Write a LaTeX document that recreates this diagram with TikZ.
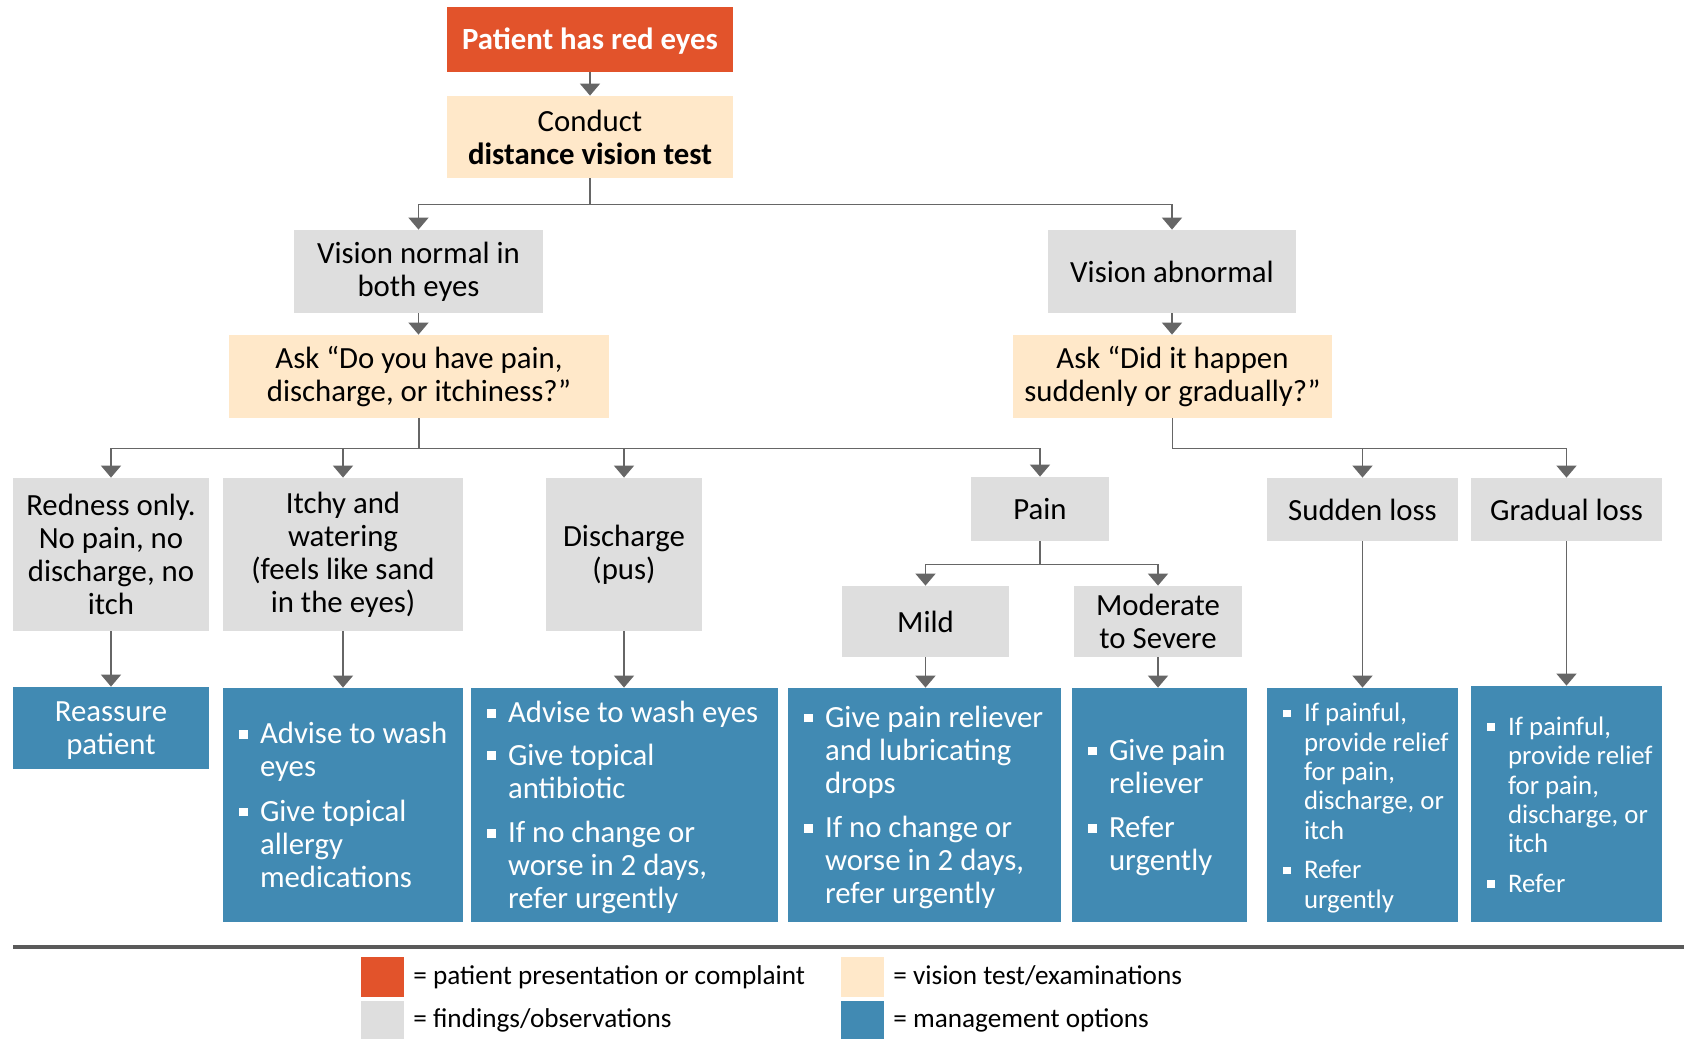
\documentclass[tikz,border=0pt]{standalone}
\usepackage{fontspec}
\setmainfont{Carlito}
\usetikzlibrary{arrows.meta}

\definecolor{cRed}{HTML}{E2532B}
\definecolor{cCream}{HTML}{FFE8C9}
\definecolor{cGray}{HTML}{DEDEDE}
\definecolor{cBlue}{HTML}{418AB3}
\definecolor{cLine}{HTML}{666666}
\definecolor{cRule}{HTML}{5A5A5A}

% type sizes (1 px of the layout grid = 0.5pt)
\newcommand\bodysize{\fontsize{15.4pt}{16.5pt}\selectfont}
\newcommand\narrowsize{\fontsize{13.4pt}{14.7pt}\selectfont}
\newcommand\legendsize{\fontsize{13.6pt}{15pt}\selectfont}

% one bullet item: square bullet, lines given explicitly
\newcommand\bitem[1]{\noindent\makebox[10.5pt][l]{\raisebox{0.16em}{\rule{0.29em}{0.29em}}}%
  \begin{tabular}[t]{@{}l@{}}#1\end{tabular}\par}
% bullet block inside a management box of width #1
\newcommand\mgtext[2]{\raisebox{-2pt}[\height][\depth]{\makebox[#1][l]{\hspace{8pt}%
  \parbox[c]{\dimexpr#1-8pt\relax}{\raggedright #2}}}}

\tikzset{
  sz/.style 2 args={minimum width=#1*0.5pt, minimum height=#2*0.5pt},
  box/.style={rectangle, inner sep=0pt, font=\bodysize},
  redbox/.style={box, fill=cRed, text=white, font=\bodysize\bfseries},
  creambox/.style={box, fill=cCream, align=center},
  graybox/.style={box, fill=cGray, align=center},
  mgbox/.style={box, fill=cBlue, text=white},
  conn/.style={draw=cLine, line width=0.75pt, -{Triangle[width=10pt,length=6pt]}},
  swatch/.style={rectangle, inner sep=0pt},
  legtext/.style={anchor=base west, inner sep=0pt, font=\legendsize},
}

\begin{document}
\begin{tikzpicture}[x=0.5pt, y=-0.5pt]
\useasboundingbox (0,0) rectangle (1684,1038);
\fill[white] (0,0) rectangle (1684,1038);

% ---- top of the chart
\node[redbox, sz={286}{65}] (start) at (590,39.5) {\raisebox{-1pt}[\height][\depth]{Patient has red eyes}};
\node[creambox, sz={286}{82}] (test) at (590,137) {Conduct\\\textbf{distance vision test}};

\node[graybox, sz={249}{83}] (vnorm) at (418.5,271.5) {Vision normal in\\both eyes};
\node[graybox, sz={248}{83}] (vabn) at (1172,271.5) {Vision abnormal};

\node[creambox, sz={380}{83}] (ask1) at (419,376.5) {Ask “Do you have pain,\\discharge, or itchiness?”};
\node[creambox, sz={319}{83}] (ask2) at (1172.5,376.5) {Ask “Did it happen\\suddenly or gradually?”};

% ---- findings
\node[graybox, sz={196}{153}] (redness) at (111,554.5) {Redness only.\\No pain, no\\discharge, no\\itch};
\node[graybox, sz={240}{153}] (itchy) at (343,554.5) {Itchy and\\watering\\(feels like sand\\in the eyes)};
\node[graybox, sz={156}{153}] (disch) at (624,554.5) {Discharge\\(pus)};
\node[graybox, sz={138}{64}] (pain) at (1040,509) {Pain};
\node[graybox, sz={191}{63}] (sudden) at (1362.5,509.5) {Sudden loss};
\node[graybox, sz={191}{63}] (gradual) at (1566.5,509.5) {Gradual loss};
\node[graybox, sz={167}{71}] (mild) at (925.5,621.5) {Mild};
\node[graybox, sz={168}{71}] (moder) at (1158,621.5) {Moderate\\to Severe};

% ---- management options
\node[mgbox, sz={196}{82}] (reassure) at (111,728) {\raisebox{-1.5pt}[\height][\depth]{\begin{tabular}{@{}c@{}}Reassure\\patient\end{tabular}}};
\node[mgbox, sz={240}{234}] (mItchy) at (343,805) {\mgtext{120pt}{\bodysize
  \bitem{Advise to wash\\eyes}\vspace{4.75pt}
  \bitem{Give topical\\allergy\\medications}}};
\node[mgbox, sz={307}{234}] (mDisch) at (624.5,805) {\mgtext{153.5pt}{\bodysize
  \bitem{Advise to wash eyes}\vspace{4.75pt}
  \bitem{Give topical\\antibiotic}\vspace{4.75pt}
  \bitem{If no change or\\worse in 2 days,\\refer urgently}}};
\node[mgbox, sz={273}{234}] (mMild) at (924.5,805) {\mgtext{136.5pt}{\bodysize
  \bitem{Give pain reliever\\and lubricating\\drops}\vspace{4.75pt}
  \bitem{If no change or\\worse in 2 days,\\refer urgently}}};
\node[mgbox, sz={175}{234}] (mModer) at (1159.5,805) {\mgtext{87.5pt}{\bodysize
  \bitem{Give pain\\reliever}\vspace{4.75pt}
  \bitem{Refer\\urgently}}};
\node[mgbox, sz={191}{234}] (mSudden) at (1362.5,805) {\mgtext{95.5pt}{\narrowsize
  \bitem{If painful,\\provide relief\\for pain,\\discharge, or\\itch}\vspace{4pt}
  \bitem{Refer\\urgently}}};
\node[mgbox, sz={191}{236}] (mGrad) at (1566.5,804) {\mgtext{95.5pt}{\narrowsize
  \bitem{If painful,\\provide relief\\for pain,\\discharge, or\\itch}\vspace{4pt}
  \bitem{Refer}}};

% ---- connectors
\draw[conn] (start.south) -- (test.north);
\draw[conn] (test.south) -- ++(0,26) -| (vnorm.north);
\draw[conn] (test.south) -- ++(0,26) -| (vabn.north);
\draw[conn] (vnorm.south) -- (vnorm.south |- ask1.north);
\draw[conn] (vabn.south) -- (vabn.south |- ask2.north);

\draw[conn] (ask1.south) -- ++(0,30) -| (redness.north);
\draw[conn] (ask1.south) -- ++(0,30) -| (itchy.north);
\draw[conn] (ask1.south) -- ++(0,30) -| (disch.north);
\draw[conn] (ask1.south) -- ++(0,30) -| (pain.north);
\draw[conn] (ask2.south) -- ++(0,30) -| (sudden.north);
\draw[conn] (ask2.south) -- ++(0,30) -| (gradual.north);
\draw[conn] (pain.south) -- ++(0,23) -| (mild.north);
\draw[conn] (pain.south) -- ++(0,23) -| (moder.north);

\draw[conn] (redness.south) -- (redness.south |- reassure.north);
\draw[conn] (itchy.south) -- (itchy.south |- mItchy.north);
\draw[conn] (disch.south) -- (disch.south |- mDisch.north);
\draw[conn] (mild.south) -- (mild.south |- mMild.north);
\draw[conn] (moder.south) -- (moder.south |- mModer.north);
\draw[conn] (sudden.south) -- (sudden.south |- mSudden.north);
\draw[conn] (gradual.south) -- (gradual.south |- mGrad.north);

% ---- legend
\draw[cRule, line width=2pt] (13,947) -- (1684,947);
\node[swatch, fill=cRed, sz={43}{40}] (swRed) at (382.5,977) {};
\node[swatch, fill=cGray, sz={43}{38}] (swGray) at (382.5,1020) {};
\node[swatch, fill=cCream, sz={43}{40}] (swCream) at (862.5,977) {};
\node[swatch, fill=cBlue, sz={43}{38}] (swBlue) at (862.5,1020) {};
\node[legtext] (lgRed) at (413,984) {= patient presentation or complaint};
\node[legtext] (lgGray) at (413,1027) {= findings/observations};
\node[legtext] (lgCream) at (893,984) {= vision test/examinations};
\node[legtext] (lgBlue) at (893,1027) {= management options};
\end{tikzpicture}
\end{document}
